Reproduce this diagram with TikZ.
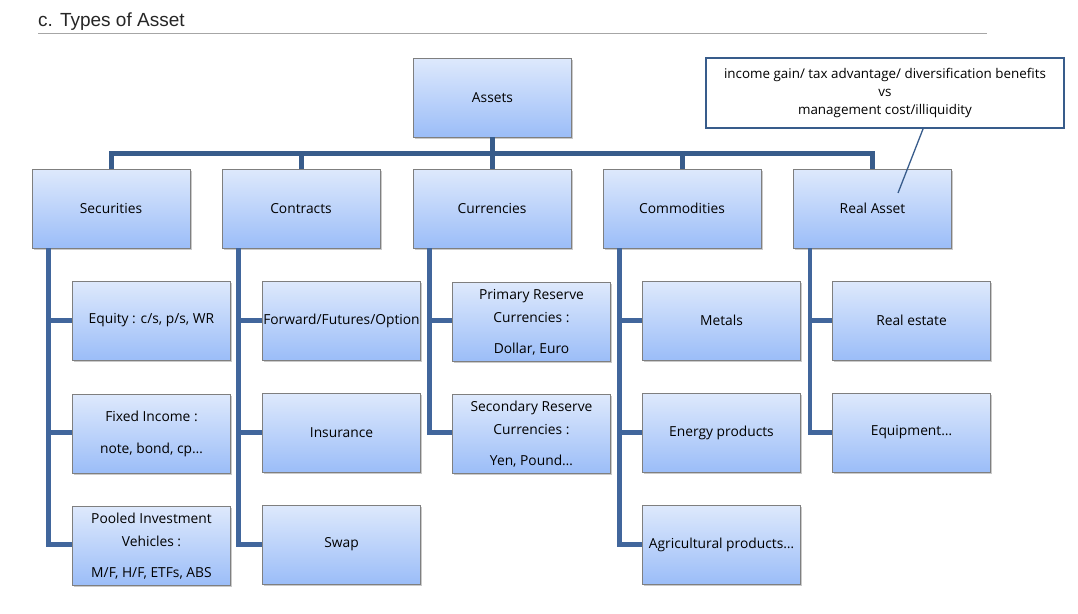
\documentclass[tikz,border=0pt]{standalone}
\usepackage{fontspec}
\setmainfont{Open Sans}
\newfontfamily\titlefont{Liberation Sans}
\usetikzlibrary{shadows}
\definecolor{bartop}{HTML}{385C8B}
\definecolor{trunkc}{HTML}{41669C}
\definecolor{boxtop}{HTML}{DEE9FC}
\definecolor{boxbot}{HTML}{9BBDF8}
\definecolor{boxedge}{HTML}{7F7F7F}
\tikzset{
  abox/.style={rectangle, draw=boxedge, line width=0.9pt, top color=boxtop, bottom color=boxbot,
    minimum width=158pt, minimum height=79pt, inner sep=0pt, align=center,
    font=\fontsize{13.8}{23}\selectfont,
    drop shadow={shadow xshift=1.5pt, shadow yshift=-1.5pt, opacity=0.35, fill=black!60}},
  bar/.style={draw=bartop, line width=5pt},
  trunk/.style={draw=trunkc, line width=4.5pt},
}
\begin{document}
\begin{tikzpicture}[x=1pt,y=-1pt]
\useasboundingbox (0,0) rectangle (1078,613);
% title
\node[anchor=base west, inner sep=0pt, text=black!85, font=\titlefont\fontsize{19}{22}\selectfont] (title) at (38,27) {c. Types of Asset};
\coordinate (ruleL) at (38,33.5);
\coordinate (ruleR) at (987,33.5);
\draw[black!35, line width=1pt] (ruleL) -- (ruleR);

% boxes
\node[abox] (assets) at (492.5,97.5) {Assets};
\node[abox] (sec) at (111,208.5) {Securities};
\node[abox] (con) at (301,208.5) {Contracts};
\node[abox] (cur) at (492,208.5) {Currencies};
\node[abox] (com) at (682,208.5) {Commodities};
\node[abox] (ra) at (872.5,208.5) {Real Asset};

\node[abox] (s1) at (151.5,320.5) {Equity : c/s, p/s, WR};
\node[abox] (s2) at (151.5,433.5) {Fixed Income :\\[9pt]note, bond, cp…};
\node[abox] (s3) at (151.5,546) {Pooled Investment\\Vehicles :\\[8pt]M/F, H/F, ETFs, ABS};

\node[abox] (c1) at (341.5,320.5) {Forward/Futures/Option};
\node[abox] (c2) at (341.5,432.5) {Insurance};
\node[abox] (c3) at (341.5,544.5) {Swap};

\node[abox] (u1) at (531.5,322) {Primary Reserve\\Currencies :\\[8pt]Dollar, Euro};
\node[abox] (u2) at (531.5,434) {Secondary Reserve\\Currencies :\\[8pt]Yen, Pound…};

\node[abox] (m1) at (721.5,320.5) {Metals};
\node[abox] (m2) at (721.5,432.5) {Energy products};
\node[abox] (m3) at (721.5,544.5) {Agricultural products…};

\node[abox] (r1) at (911.5,320.5) {Real estate};
\node[abox] (r2) at (911.5,432.5) {Equipment…};

% top bar
\coordinate (barY) at (0,153);
\draw[bar] (assets.south) -- (assets.south |- barY);
\draw[bar] (sec.north) -- (sec.north |- barY) -- (ra.north |- barY) -- (ra.north);
\draw[bar] (con.north) -- (con.north |- barY);
\draw[bar] (cur.north) -- (cur.north |- barY);
\draw[bar] (com.north) -- (com.north |- barY);

% trunks
\coordinate (ts) at ([xshift=17pt]sec.south west);
\draw[trunk] (ts) -- (ts |- c3.west) -- (s3.west |- c3.west);
\draw[trunk] (ts |- s1.west) -- (s1.west);
\draw[trunk] (ts |- c2.west) -- (s2.west |- c2.west);

\coordinate (tc) at ([xshift=17pt]con.south west);
\draw[trunk] (tc) -- (tc |- c3.west) -- (c3.west);
\draw[trunk] (tc |- c1.west) -- (c1.west);
\draw[trunk] (tc |- c2.west) -- (c2.west);

\coordinate (tu) at ([xshift=17pt]cur.south west);
\draw[trunk] (tu) -- (tu |- c2.west) -- (u2.west |- c2.west);
\draw[trunk] (tu |- c1.west) -- (u1.west |- c1.west);

\coordinate (tm) at ([xshift=17pt]com.south west);
\draw[trunk] (tm) -- (tm |- m3.west) -- (m3.west);
\draw[trunk] (tm |- m1.west) -- (m1.west);
\draw[trunk] (tm |- m2.west) -- (m2.west);

\coordinate (tr) at ([xshift=17pt]ra.south west);
\draw[trunk] (tr) -- (tr |- r2.west) -- (r2.west);
\draw[trunk] (tr |- r1.west) -- (r1.west);

% callout
\node[rectangle, draw=bartop, line width=2pt, fill=white, minimum width=358pt, minimum height=70pt,
  inner sep=0pt, align=center, font=\fontsize{13.4}{18}\selectfont] (note) at (885,93)
  {\raisebox{-1.5pt}{income gain/ tax advantage/ diversification benefits}\\\raisebox{-1.5pt}{vs}\\\raisebox{-1.5pt}{management cost/illiquidity}};
\coordinate (tip) at (898,193);
\draw[bartop, line width=1.3pt] ([xshift=38pt]note.south) -- (tip);
\end{tikzpicture}
\end{document}
